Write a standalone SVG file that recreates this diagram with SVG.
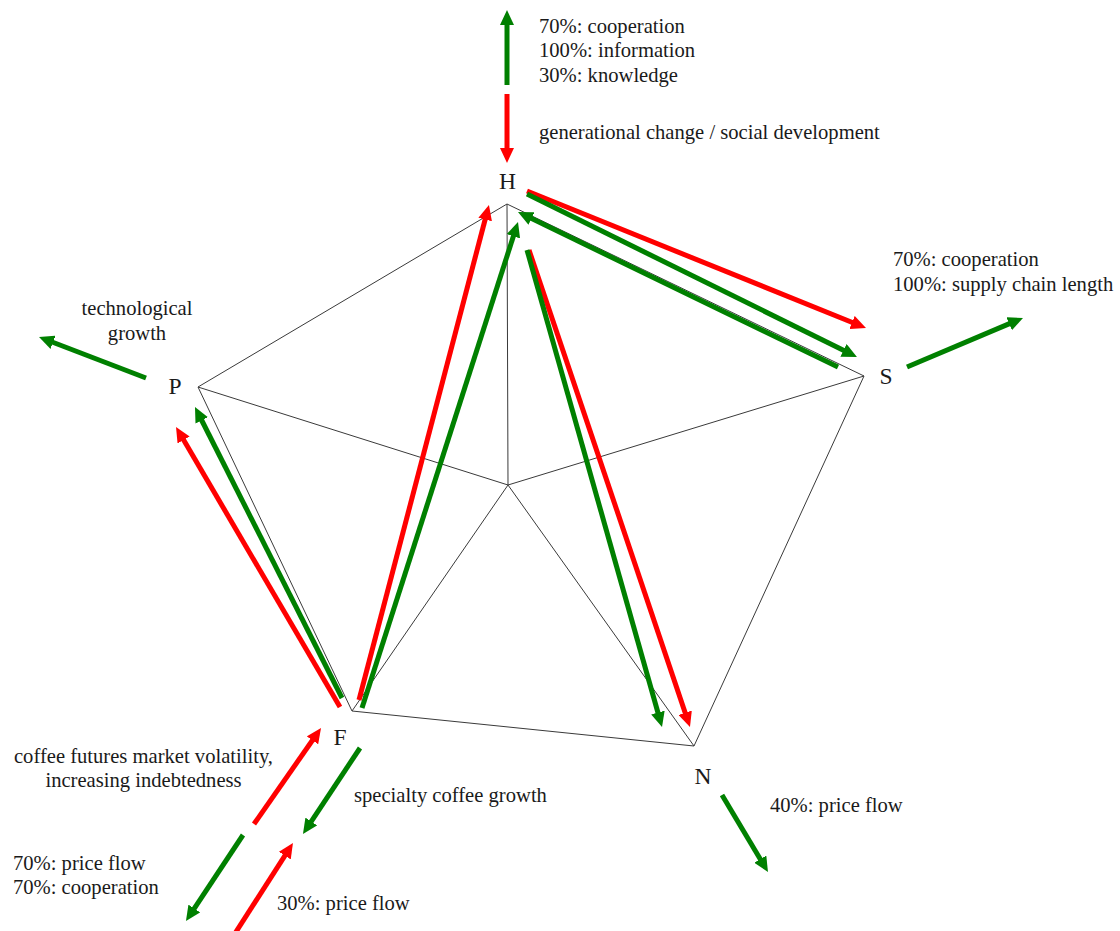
<svg xmlns="http://www.w3.org/2000/svg" width="1120" height="931" viewBox="0 0 1120 931">
  <style>
    .txt { font-family: "Liberation Serif", "Times New Roman", serif; font-size: 20.6px; fill: #1a1a1a; }
    .lbl { font-family: "Liberation Serif", "Times New Roman", serif; font-size: 23.5px; fill: #1a1a1a; text-anchor: middle; }
    .frame { stroke: #3a3a3a; stroke-width: 1; fill: none; }
    .g { stroke: #008000; stroke-width: 5; fill: none; marker-end: url(#headG); }
    .r { stroke: #ff0000; stroke-width: 5; fill: none; marker-end: url(#headR); }
  </style>
  <defs>
    <marker id="headG" viewBox="0 0 15 14" markerUnits="userSpaceOnUse" markerWidth="15" markerHeight="14" refX="1" refY="7" orient="auto">
      <path d="M0,0 L15,7 L0,14 z" fill="#008000"/>
    </marker>
    <marker id="headR" viewBox="0 0 15 14" markerUnits="userSpaceOnUse" markerWidth="15" markerHeight="14" refX="1" refY="7" orient="auto">
      <path d="M0,0 L15,7 L0,14 z" fill="#ff0000"/>
    </marker>
  </defs>
  <rect width="1120" height="931" fill="#ffffff"/>

  <!-- pentagon frame and spokes -->
  <g id="frame">
    <polygon class="frame" points="507,204 864,376 694,746 352,711 198,387"/>
    <line class="frame" x1="508" y1="485" x2="507" y2="204"/>
    <line class="frame" x1="508" y1="485" x2="864" y2="376"/>
    <line class="frame" x1="508" y1="485" x2="694" y2="746"/>
    <line class="frame" x1="508" y1="485" x2="352" y2="711"/>
    <line class="frame" x1="508" y1="485" x2="198" y2="387"/>
  </g>

  <!-- vertices -->
  <g id="node-H"><text class="lbl" x="507.5" y="189">H</text></g>
  <g id="node-S"><text class="lbl" x="886" y="384">S</text></g>
  <g id="node-N"><text class="lbl" x="703" y="784">N</text></g>
  <g id="node-F"><text class="lbl" x="340" y="745">F</text></g>
  <g id="node-P"><text class="lbl" x="175" y="394">P</text></g>

  <!-- flows -->
  <g id="connectors">
    <!-- above H -->
    <line class="g" x1="507" y1="85" x2="507" y2="24"/>
    <line class="r" x1="507" y1="94" x2="507" y2="149"/>
    <!-- H - S -->
    <line class="r" x1="527" y1="191" x2="853" y2="322.8"/>
    <line class="g" x1="527" y1="194" x2="844.4" y2="350.8"/>
    <line class="g" x1="838" y1="367" x2="530.6" y2="218.1"/>
    <!-- S outward -->
    <line class="g" x1="907" y1="367" x2="1010.1" y2="323.4"/>
    <!-- P outward -->
    <line class="g" x1="146" y1="378" x2="52.1" y2="342"/>
    <!-- F - P -->
    <line class="r" x1="340" y1="707" x2="183.1" y2="439.1"/>
    <line class="g" x1="342" y1="698" x2="201.3" y2="419.5"/>
    <!-- F - H -->
    <line class="r" x1="359" y1="700" x2="485.4" y2="218.5"/>
    <line class="g" x1="362" y1="708" x2="513.7" y2="235.3"/>
    <!-- H - N -->
    <line class="r" x1="529" y1="250" x2="685.5" y2="713.7"/>
    <line class="g" x1="527" y1="250" x2="658.2" y2="713.5"/>
    <!-- N outward -->
    <line class="g" x1="722" y1="795" x2="760.8" y2="860"/>
    <!-- below F -->
    <line class="r" x1="254" y1="824" x2="313" y2="739.5"/>
    <line class="g" x1="360" y1="748" x2="310.7" y2="822.3"/>
    <line class="g" x1="243" y1="835" x2="193.7" y2="909.3"/>
    <line class="r" x1="234" y1="935" x2="285.4" y2="854.8"/>
  </g>

  <!-- annotations -->
  <g id="notes-H">
    <text class="txt" x="539" y="33">70%: cooperation</text>
    <text class="txt" x="539" y="57">100%: information</text>
    <text class="txt" x="539" y="82">30%: knowledge</text>
    <text class="txt" x="539" y="139">generational change / social development</text>
  </g>
  <g id="notes-S">
    <text class="txt" x="893" y="266">70%: cooperation</text>
    <text class="txt" x="893" y="291">100%: supply chain length</text>
  </g>
  <g id="notes-P">
    <text class="txt" x="137" y="315" text-anchor="middle">technological</text>
    <text class="txt" x="137" y="340" text-anchor="middle">growth</text>
  </g>
  <g id="notes-F">
    <text class="txt" x="143.5" y="763" text-anchor="middle">coffee futures market volatility,</text>
    <text class="txt" x="143.5" y="787" text-anchor="middle">increasing indebtedness</text>
    <text class="txt" x="354" y="802">specialty coffee growth</text>
    <text class="txt" x="13" y="870">70%: price flow</text>
    <text class="txt" x="13" y="894">70%: cooperation</text>
    <text class="txt" x="277" y="910">30%: price flow</text>
  </g>
  <g id="notes-N">
    <text class="txt" x="770" y="812">40%: price flow</text>
  </g>
</svg>
